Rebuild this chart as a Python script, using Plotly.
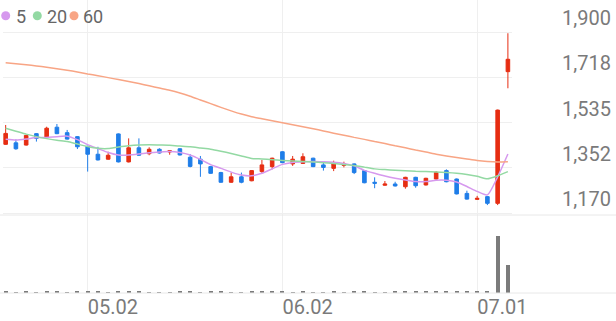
import plotly.graph_objects as go

# ---- data ----
idx = list(range(50))
tick_idx = [8, 27, 46]
tick_labels = ["05.02", "06.02", "07.01"]

opens  = [1447,1453,1444,1490,1474,1516,1494,1478,1439,1407,
          1387,1489,1376,1433,1409,1427,1416,1429,1395,1387,
          1357,1333,1294,1316,1300,1337,1357,1417,1368,1370,
          1391,1364,1350,1362,1368,1341,1294,1282,1287,1276,
          1314,1283,1307,1341,1307,1249,1225,1236,1209,1740]
highs  = [1525,1467,1485,1492,1518,1529,1505,1480,1441,1437,
          1417,1491,1471,1471,1435,1431,1423,1431,1408,1400,
          1360,1336,1333,1333,1343,1384,1393,1419,1400,1411,
          1393,1377,1381,1377,1370,1343,1314,1299,1296,1316,
          1316,1312,1339,1346,1309,1260,1239,1238,1587,1895]
lows   = [1445,1425,1442,1458,1472,1488,1466,1428,1337,1382,
          1385,1374,1374,1400,1403,1410,1405,1402,1354,1316,
          1328,1292,1292,1290,1298,1330,1346,1371,1360,1368,
          1355,1341,1339,1354,1327,1290,1270,1280,1277,1268,
          1272,1281,1305,1294,1245,1224,1223,1202,1202,1673]
closes = [1491,1429,1483,1471,1512,1490,1468,1437,1407,1384,
          1403,1376,1433,1403,1427,1412,1421,1404,1358,1368,
          1330,1294,1316,1294,1341,1364,1391,1373,1387,1397,
          1357,1354,1368,1369,1333,1292,1290,1287,1279,1314,
          1280,1310,1334,1296,1247,1226,1229,1209,1585,1790]

ma5  = [1467,1464,1468,1474,1475,1478,1480,1466,1446,1430,
        1414,1404,1404,1408,1413,1416,1418,1414,1404,1386,
        1365,1350,1335,1323,1320,1330,1348,1366,1374,1377,
        1378,1377,1375,1370,1360,1342,1330,1319,1310,1303,
        1297,1297,1302,1302,1295,1277,1257,1243,1316,1408]
ma20 = [1512,1500,1488,1478,1470,1463,1458,1448,1438,1431,
        1430,1436,1441,1444,1445,1444,1443,1440,1437,1432,
        1427,1419,1410,1400,1390,1388,1385,1382,1380,1378,
        1376,1373,1370,1366,1362,1355,1348,1345,1342,1340,
        1338,1337,1335,1333,1330,1325,1318,1308,1320,1337]
ma60 = [1776,1772,1768,1763,1758,1752,1746,1739,1731,1724,
        1716,1708,1700,1692,1683,1674,1665,1654,1641,1626,
        1611,1596,1582,1569,1558,1550,1542,1534,1526,1518,
        1510,1501,1492,1484,1475,1467,1458,1450,1441,1433,
        1424,1416,1407,1400,1394,1388,1382,1378,1376,1377]

volumes = [180000,170000,190000,160000,200000,180000,170000,190000,210000,180000,
           170000,220000,190000,180000,160000,170000,150000,180000,190000,170000,
           180000,200000,170000,160000,190000,180000,200000,210000,170000,180000,
           160000,170000,190000,150000,180000,200000,170000,160000,180000,190000,
           200000,180000,210000,230000,420000,300000,200000,220000,9900000,4860000]

y_ticks = [1170, 1352.5, 1535, 1717.5, 1900]
y_tick_labels = ["1,170", "1,352", "1,535", "1,718", "1,900"]

ma_names = ["5", "20", "60"]
ma_colors = ["#d699ee", "#93d9a3", "#f8a585"]

# ---- styling / geometry ----
W, H = 616, 321
RED, BLUE = "#e62d12", "#1f7de8"
GRID = "#efefef"
AXIS_FONT = dict(family="Roboto", size=20, color="#7a7a7a")

def py(px):  # pixel row -> paper y
    return (H - px) / H

x_dom = [3 / W, 512 / W]
k = 730 / 181.0
price_range = [1170 - (215 - 213) * k, 1170 + 213 * k]

fig = go.Figure()

fig.add_trace(go.Candlestick(
    x=idx, open=opens, high=highs, low=lows, close=closes,
    increasing=dict(line=dict(color=RED, width=1), fillcolor=RED),
    decreasing=dict(line=dict(color=BLUE, width=1), fillcolor=BLUE),
    whiskerwidth=0, showlegend=False, xaxis="x", yaxis="y"))

for vals, name, col in zip([ma5, ma20, ma60], ma_names, ma_colors):
    fig.add_trace(go.Scatter(x=idx, y=vals, mode="lines", name=name,
                             line=dict(color=col, width=1.5, shape="spline", smoothing=0.6),
                             showlegend=False, xaxis="x", yaxis="y"))

fig.add_trace(go.Bar(x=idx, y=volumes, width=0.38, marker=dict(color="#7b7b7b", line=dict(width=0)),
                     showlegend=False, xaxis="x2", yaxis="y2"))

xrange = [-0.26, 49.4]
fig.update_layout(
    width=W, height=H, margin=dict(l=0, r=0, t=0, b=0, autoexpand=False),
    paper_bgcolor="white", plot_bgcolor="white",
    boxgap=0.5, bargap=0,
    xaxis=dict(domain=x_dom, range=xrange, anchor="y", showticklabels=False,
               tickvals=tick_idx, showgrid=True, gridcolor=GRID, zeroline=False,
               rangeslider=dict(visible=False), automargin=False),
    yaxis=dict(domain=[py(215), 1], range=price_range, side="right",
               tickvals=y_ticks, ticktext=y_tick_labels, showgrid=True, gridcolor=GRID,
               zeroline=False, ticks="", ticklabelposition="outside top",
               ticklabelstandoff=49, tickfont=AXIS_FONT, automargin=False),
    xaxis2=dict(domain=x_dom, range=xrange, anchor="y2", matches="x",
                tickvals=tick_idx, ticktext=tick_labels, showgrid=True, gridcolor=GRID,
                zeroline=False, ticks="", ticklabelposition="outside right",
                tickfont=AXIS_FONT, automargin=False),
    yaxis2=dict(domain=[py(293), py(215)], range=[0, 9900000 * 78 / 57],
                showgrid=False, zeroline=False, showticklabels=False, automargin=False),
)

# panel separator lines across full width
for yy in [215, 293]:
    fig.add_shape(type="line", xref="paper", yref="paper", x0=0, x1=1, y0=py(yy), y1=py(yy),
                  line=dict(color="#e8e8e8", width=1))

# legend: circles + labels
circle_x = [5.7, 37.3, 74.0]
text_x = [14.0, 44.5, 81.0]
for cx, tx, name, col in zip(circle_x, text_x, ma_names, ma_colors):
    r = 4.5
    fig.add_shape(type="circle", xref="paper", yref="paper",
                  x0=(cx - r) / W, x1=(cx + r) / W, y0=py(15.7 + r), y1=py(15.7 - r),
                  fillcolor=col, line=dict(width=0))
    fig.add_annotation(text=name, xref="paper", yref="paper", x=tx / W, y=py(16),
                       xanchor="left", yanchor="middle", showarrow=False,
                       font=dict(family="Roboto", size=18, color="#666666"))

fig.write_html("out.html")
